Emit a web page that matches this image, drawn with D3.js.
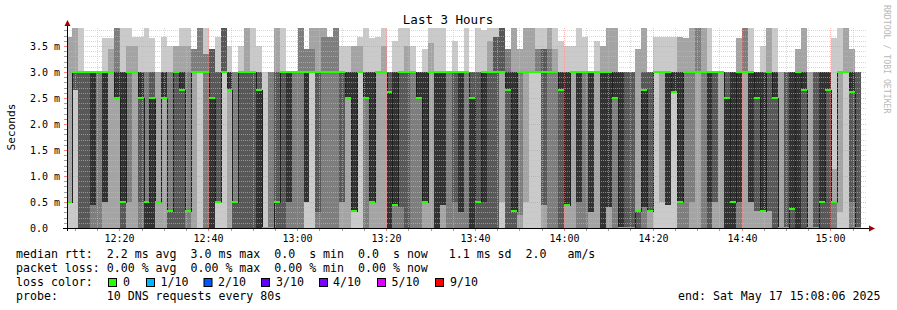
<!DOCTYPE html>
<html>
<head>
<meta charset="utf-8">
<script src="https://cdn.jsdelivr.net/npm/d3@7"></script>
<style>
  body { margin: 0; background: #fff; }
  text { font-family: "DejaVu Sans Mono", monospace; white-space: pre; }
</style>
</head>
<body>
<div id="chart"></div>
<script>
// graph window: 3 hours ending at the timestamp below, one sample every 80s
const endTime = new Date(2025, 4, 17, 15, 8, 6);
const startTime = new Date(endTime.getTime() - 3 * 3600 * 1000);
const stepSec = 80;

// median rtt per sample (ms)
const medians = [
  .5, 3, 3, 3, 3, 3, 3, 3, 2.5, .5,
  3, 3, 2.5, .5, 2.5, .5, 2.5, .33, 3, 2.65,
  .33, 3, 3, 3, 2.5, .5, 3, 2.65, .5, 3,
  3, 3, 2.65, 0, 0, .5, 3, 3, 3, 3,
  3, 3, 3, 3, 3, 3, 3, 2.5, .33, 3,
  2.5, .5, 3, 3, 2.62, .45, 3, 3, 3, 2.5,
  .5, 3, 3, 3, 3, 3, 3, 3, 2.5, .5,
  3, 3, 3, 3, 2.65, .33, 3, 3, 3, 3,
  3, 3, 3, 2.65, .45, 3, 3, 3, 3, 3,
  3, 3, 2.5, 0, 0, 0, .33, 2.65, .33, 3,
  3, 3, 2.62, .5, 3, 3, 3, 3, 3, 3,
  3, 2.5, .5, 3, 3, 3, 2.5, .33, 3, 2.5,
  0, 0, .37, 3, 2.65, 0, 0, .5, 2.65, .5,
  3, 3, 2.62, 0
];

// the 10 sorted ping times of every sample (ms)
const pings = [
  [0,.5,.5,.5,.5,.5,.5,.5,3.67,3.67], [0,2.65,2.65,2.65,3,3,3,3,3.9,3.9], [0,0,0,0,3,3,3,3,3,3.9],
  [0,0,0,0,3,3,3,3,3,3], [0,0,0,.45,.45,3,3,3,3,3], [0,0,0,3,3,3,3,3,3,3],
  [0,0,.5,.5,.5,3,3,3,3,3.65], [0,0,3,3,3,3,3,3,3.44,3.65], [0,0,2.5,2.5,2.5,3,3,3.9,3.9,3.9],
  [0,0,0,0,.5,3,3,3,3,3.9], [0,0,.5,3,3,3,3,3,3.5,3.9], [0,0,3,3,3,3,3,3,3.5,3.67],
  [0,0,0,.5,2.5,3,3,3,3,3.67], [0,0,0,0,0,.5,.5,3,3,3.9], [0,0,0,0,0,2.5,3,3,3,3.65],
  [0,0,.5,.5,.5,.5,.5,.5,3,3], [0,0,2.5,2.5,2.5,3,3,3,3,3.67], [0,0,0,0,.33,.33,.33,3,3,3.5],
  [0,0,0,0,3,3,3,3,3.5,3.5], [0,0,0,0,2.65,3,3,3,3.5,3.9], [0,0,0,.33,.33,.33,.33,3,3.5,3.9],
  [0,0,3,3,3,3,3,3.45,3.45,3.45], [0,3,3,3,3,3,3,3.9,3.9,3.9], [0,0,0,3,3,3,3,3.35,3.35,3.9],
  [0,0,0,0,0,2.5,3.45,3.45,3.45,3.45], [0,.5,.5,.5,.5,.5,3,3,3,3.67], [0,3,3,3,3,3,3.9,3.9,3.9,3.9],
  [0,0,2.65,2.65,2.65,3,3,3,3,3.5], [0,0,0,0,.5,.5,.5,3,3,3], [0,0,0,0,3,3,3,3,3,3.5],
  [0,0,0,0,3,3,3,3,3.9,3.9], [0,0,0,0,3,3,3,3,3,3.9], [0,0,0,0,0,2.65,3,3,3,3.5],
  [0,0,0,0,0,0,0,0,0,3], [0,0,0,0,0,0,0,3,3,3], [0,0,0,0,.5,.5,3,3,3.9,3.9],
  [0,0,0,0,3,3,3,3,3,3.9], [0,0,0,.5,.5,3,3,3,3,3], [0,0,0,3,3,3,3,3,3,3],
  [0,0,0,3,3,3,3,3.9,3.9,3.9], [0,.5,.5,.5,.5,3,3,3.45,3.45,3.45], [0,3,3,3,3,3,3,3.45,3.9,3.9],
  [0,0,0,.3,3,3,3,3,3.9,3.9], [0,0,0,3,3,3,3,3.67,3.9,3.9], [0,0,0,3,3,3,3,3.67,3.67,3.67],
  [0,0,0,3,3,3,3,3.9,3.9,3.9], [0,0,.5,.5,3,3,3,3,3,3.5], [0,0,2.5,2.5,2.5,3,3,3,3,3.5],
  [0,.33,.33,.33,.33,3,3,3,3.5,3.5], [0,3,3,3,3,3,3,3,3.5,3.67], [0,0,0,2.5,2.5,3,3,3,3,3.9],
  [0,0,.5,.5,.5,3,3,3,3,3.65], [0,0,3,3,3,3,3,3,3,3.67], [0,0,3,3,3,3,3,3,3.5,3.9],
  [0,0,0,0,0,2.62,3,3,3,3], [0,0,0,.45,.45,3,3,3,3,3.6], [0,0,0,.4,3,3,3,3,3,3.9],
  [0,0,0,0,3,3,3,3,3.5,3.9], [0,0,0,3,3,3,3,3,3,3.5], [0,0,0,2.5,2.5,3,3,3,3,3],
  [0,0,.5,.5,.5,3,3,3,3,3.45], [0,0,3,3,3,3,3,3,3.55,3.9], [0,0,0,0,0,3,3,3,3,3.9],
  [0,0,.45,.45,.45,3,3,3,3,3.9], [0,0,0,3,3,3,3,3,3,3], [0,0,0,.5,3,3,3,3,3,3.6],
  [0,0,0,.3,.3,3,3,3,3,3], [0,0,0,3,3,3,3,3,3,3.9], [0,0,0,0,0,2.5,3,3,3,3],
  [0,0,0,0,.5,.5,3,3,3,3.9], [0,0,0,0,.5,3,3,3,3,3.8], [0,0,0,0,3,3,3,3,3.6,3.9],
  [0,0,0,0,3,3,3.67,3.67,3.67,3.9], [0,.5,3,3,3,3,3.9,3.9,3.9,3.9], [0,0,0,0,2.65,3,3,3.45,3.45,3.45],
  [0,0,0,0,.33,3,3,3,3.9,3.9], [0,0,.25,3,3,3,3,3,3.45,3.45], [0,.5,3,3,3,3,3,3,3.9,3.9],
  [0,3,3,3,3,3,3,3,3.9,3.9], [0,3,3,3,3,3,3,3.45,3.45,3.9], [0,0,.45,.45,3,3,3.45,3.45,3.45,3.9],
  [0,0,0,3,3,3,3,3.45,3.9,3.9], [0,0,0,3,3,3,3,3,3.45,3.9], [0,0,0,0,2.65,3,3,3,3,3.6],
  [0,0,.45,.45,.45,3,3,3,3,3.5], [0,0,3,3,3,3,3,3,3,3.5], [0,0,0,.5,.5,3,3,3,3,3.9],
  [0,0,0,3,3,3,3,3,3,3.67], [0,0,.3,.3,.3,3,3,3,3,3], [0,0,3,3,3,3,3,3,3,3.6],
  [0,0,0,0,0,3,3,3,3.5,3.5], [0,0,.4,.4,.4,3,3,3,3.9,3.9], [0,0,0,2.5,2.5,3,3,3,3.9,3.9],
  [0,0,0,0,0,3,3,3,3,3], [0,0,0,0,0,0,3,3,3,3], [0,0,0,0,0,0,3,3,3,3],
  [0,0,0,0,.33,.33,.33,.33,3.44,3.44], [0,0,0,.4,.4,2.65,3,3,3.9,3.9], [0,0,.33,.33,.33,.33,3,3,3,3],
  [0,3,3,3,3,3,3,3,3,3.67], [0,.5,3,3,3,3,3,3,3,3.67], [0,.45,.45,.45,.45,3,3,3,3,3.67],
  [0,2.62,2.62,2.62,2.62,3,3,3,3,3.67], [0,0,0,.5,.5,3,3,3,3.67,3.67], [0,0,0,3,3,3,3,3,3.65,3.65],
  [0,0,.5,3,3,3,3,3,3.9,3.9], [0,0,3,3,3,3,3,3.9,3.9,3.9], [0,0,0,3,3,3,3,3,3.9,3.9],
  [0,0,0,0,.5,3,3,3,3,3.9], [0,0,.5,.5,3,3,3,3,3,3], [0,0,3,3,3,3,3,3,3,3],
  [0,0,0,0,0,2.5,3,3,3,3], [0,0,0,0,0,3,3,3,3,3], [0,0,0,.5,.5,3,3,3,3.65,3.65],
  [0,0,3,3,3,3,3,3.9,3.9,3.9], [0,0,.5,.5,.5,3,3,3,3,3.9], [0,0,.33,.33,2.5,3,3,3,3,3],
  [0,0,.33,.33,.33,3,3,3,3,3.5], [0,0,.33,.33,3,3,3,3,3.9,3.9], [0,0,0,0,2.5,3,3,3,3,3.9],
  [0,0,0,0,0,0,0,0,3,3], [0,0,0,0,0,0,3,3,3,3], [0,0,0,0,.37,3,3,3,3,3],
  [0,0,0,0,0,3,3,3,3.44,3.44], [0,0,0,0,2.65,3,3,3,3.9,3.9], [0,0,0,0,0,0,0,0,3,3],
  [0,0,0,0,0,0,3,3,3,3], [0,0,0,0,.5,3,3,3,3,3], [0,0,0,0,2.65,3,3,3,3,3],
  [0,0,0,.5,.5,.5,.5,.5,1.13,3.65], [0,.3,3,3,3,3,3,3,3,3.9], [0,3,3,3,3,3,3,3,3.9,3.9],
  [0,0,0,.5,2.62,3,3,3,3.45,3.45], [0,0,0,0,0,0,3,3,3,3]
];

const yTicks = [0, 0.5, 1, 1.5, 2, 2.5, 3, 3.5];

const legendRows = [
  "median rtt:  2.2 ms avg  3.0 ms max  0.0  s min  0.0  s now   1.1 ms sd  2.0   am/s",
  "packet loss: 0.00 % avg  0.00 % max  0.00 % min  0.00 % now",
  "loss color:",
  "probe:       10 DNS requests every 80s"
];
const lossLabels = ["0", "1/10", "2/10", "3/10", "4/10", "5/10", "9/10"];
const lossColors = ["#26ff00", "#00b8ff", "#0059ff", "#5e00ff", "#7e00ff", "#dd00ff", "#ff0000"];

// smoke shades, outermost band first
const smokeColors = ["#cacaca", "#a4a4a4", "#7e7e7e", "#585858", "#323232"];

function draw() {
  const width = 897, height = 310;
  const left = 66.5, right = 866.5, top = 28, bottom = 228;

  const svg = d3.select("#chart").append("svg")
    .attr("width", width)
    .attr("height", height);

  svg.append("rect").attr("width", width).attr("height", height).attr("fill", "#fff");

  const x = d3.scaleTime().domain([startTime, endTime]).range([left, right]);
  const y = d3.scaleLinear().domain([0, (bottom - top) / 52]).range([bottom, top]);
  const yMax = y.domain()[1];

  const samples = pings.map((p, i) => {
    const t0 = new Date(startTime.getTime() + i * stepSec * 1000);
    const t1 = new Date(t0.getTime() + stepSec * 1000);
    const x0 = Math.round(x(t0)), x1 = Math.round(x(t1));
    return { p, m: medians[i], x0, x1 };
  });

  svg.append("clipPath").attr("id", "plot")
    .append("rect").attr("x", 67).attr("y", top).attr("width", 800).attr("height", bottom - top);

  const plot = svg.append("g").attr("clip-path", "url(#plot)");

  // smoke: each band spans ping k .. ping 9-k
  smokeColors.forEach((c, k) => {
    plot.append("g")
      .attr("shape-rendering", "crispEdges")
      .selectAll("rect")
      .data(samples)
      .join("rect")
        .attr("x", d => d.x0)
        .attr("width", d => d.x1 - d.x0)
        .attr("y", d => y(Math.min(d.p[9 - k], yMax)))
        .attr("height", d => Math.max(0, y(d.p[k]) - y(Math.min(d.p[9 - k], yMax))))
        .attr("fill", c);
  });

  // grid on top of the smoke
  const grid = svg.append("g").attr("shape-rendering", "crispEdges");
  d3.range(1, 39).forEach(i => {
    const v = i / 10;
    const major = i % 5 === 0;
    const yy = Math.round(y(v)) + 0.5;
    grid.append("line")
      .attr("x1", 67).attr("x2", 867).attr("y1", yy).attr("y2", yy)
      .attr("stroke", major ? "#ff8080" : "#c0c0c0")
      .attr("stroke-opacity", major ? 0.6 : 0.6)
      .attr("stroke-dasharray", "1,1");
    svg.append("line")
      .attr("x1", 64).attr("x2", 67).attr("y1", yy).attr("y2", yy)
      .attr("stroke", major ? "#ff8080" : "#a0a0a0");
  });
  d3.timeMinute.every(5).range(startTime, endTime).forEach(t => {
    const major = t.getMinutes() % 20 === 0;
    const xx = Math.round(x(t)) + 0.5;
    grid.append("line")
      .attr("x1", xx).attr("x2", xx).attr("y1", top).attr("y2", bottom)
      .attr("stroke", major ? "#ff8080" : "#c0c0c0")
      .attr("stroke-opacity", major ? 0.55 : 0.6)
      .attr("stroke-dasharray", "1,1");
    svg.append("line")
      .attr("x1", xx).attr("x2", xx).attr("y1", bottom).attr("y2", bottom + 3)
      .attr("stroke", major ? "#ff8080" : "#a0a0a0");
  });

  // median line and loss-coloured median marks
  const stepPts = samples.map(d => [d.x0, d.m]);
  stepPts.push([samples[samples.length - 1].x1, samples[samples.length - 1].m]);
  plot.append("path")
    .datum(stepPts)
    .attr("fill", "none")
    .attr("stroke", "#202020")
    .attr("shape-rendering", "crispEdges")
    .attr("d", d3.line().x(d => d[0] + 0.5).y(d => Math.round(y(d[1])) + 0.5).curve(d3.curveStepAfter));

  svg.append("g")
    .attr("shape-rendering", "crispEdges")
    .selectAll("rect")
    .data(samples)
    .join("rect")
      .attr("x", d => d.x0)
      .attr("width", d => d.x1 - d.x0)
      .attr("y", d => Math.round(y(d.m)) - 1)
      .attr("height", 2)
      .attr("fill", lossColors[0]);

  // axes
  svg.append("line").attr("x1", 67.5).attr("x2", 67.5).attr("y1", 24).attr("y2", 231)
    .attr("stroke", "#000").attr("shape-rendering", "crispEdges");
  svg.append("line").attr("x1", 63).attr("x2", 871).attr("y1", 228.5).attr("y2", 228.5)
    .attr("stroke", "#000").attr("shape-rendering", "crispEdges");
  svg.append("path").attr("d", "M64.5,26 L67.5,20 L70.5,26 Z").attr("fill", "#a00000");
  svg.append("path").attr("d", "M869,225.5 L875,228.5 L869,231.5 Z").attr("fill", "#a00000");

  svg.append("g")
    .selectAll("text")
    .data(yTicks)
    .join("text")
      .attr("x", 30)
      .attr("y", d => Math.round(y(d)) + 4)
      .attr("font-size", "10px")
      .attr("fill", "#000")
      .text(d => d === 0 ? "0.0" : d.toFixed(1) + " m");

  const fmt = d3.timeFormat("%H:%M");
  svg.append("g")
    .selectAll("text")
    .data(d3.timeMinute.every(20).range(startTime, endTime))
    .join("text")
      .attr("x", d => Math.round(x(d)) + 0.5)
      .attr("y", 242)
      .attr("text-anchor", "middle")
      .attr("font-size", "10px")
      .text(fmt);

  svg.append("text")
    .attr("transform", "translate(15,127) rotate(-90)")
    .attr("text-anchor", "middle")
    .attr("font-size", "11.1px")
    .text("Seconds");

  svg.append("text")
    .attr("x", 448).attr("y", 24)
    .attr("text-anchor", "middle")
    .attr("font-size", "12.5px")
    .text("Last 3 Hours");

  svg.append("text")
    .attr("transform", "translate(884,5) rotate(90)")
    .attr("font-size", "8.2px")
    .attr("fill", "#b8b8b8")
    .text("RRDTOOL / TOBI OETIKER");

  // legend
  legendRows.forEach((row, i) => {
    svg.append("text")
      .attr("x", 16).attr("y", 258 + i * 14)
      .attr("font-size", "11.6px")
      .text(row);
  });

  const boxX = [108, 146, 203.5, 261, 319, 377, 435];
  const labX = [123, 160.5, 218, 276, 333, 391.5, 450];
  lossLabels.forEach((l, i) => {
    svg.append("rect")
      .attr("x", boxX[i] + 0.5).attr("y", 278.5)
      .attr("width", 8).attr("height", 8)
      .attr("fill", lossColors[i])
      .attr("stroke", "#000");
    svg.append("text")
      .attr("x", labX[i]).attr("y", 286)
      .attr("font-size", "11.6px")
      .text(l);
  });

  svg.append("text")
    .attr("x", 678).attr("y", 300)
    .attr("font-size", "11.6px")
    .text("end: Sat May 17 15:08:06 2025");
}

draw();
</script>
</body>
</html>
